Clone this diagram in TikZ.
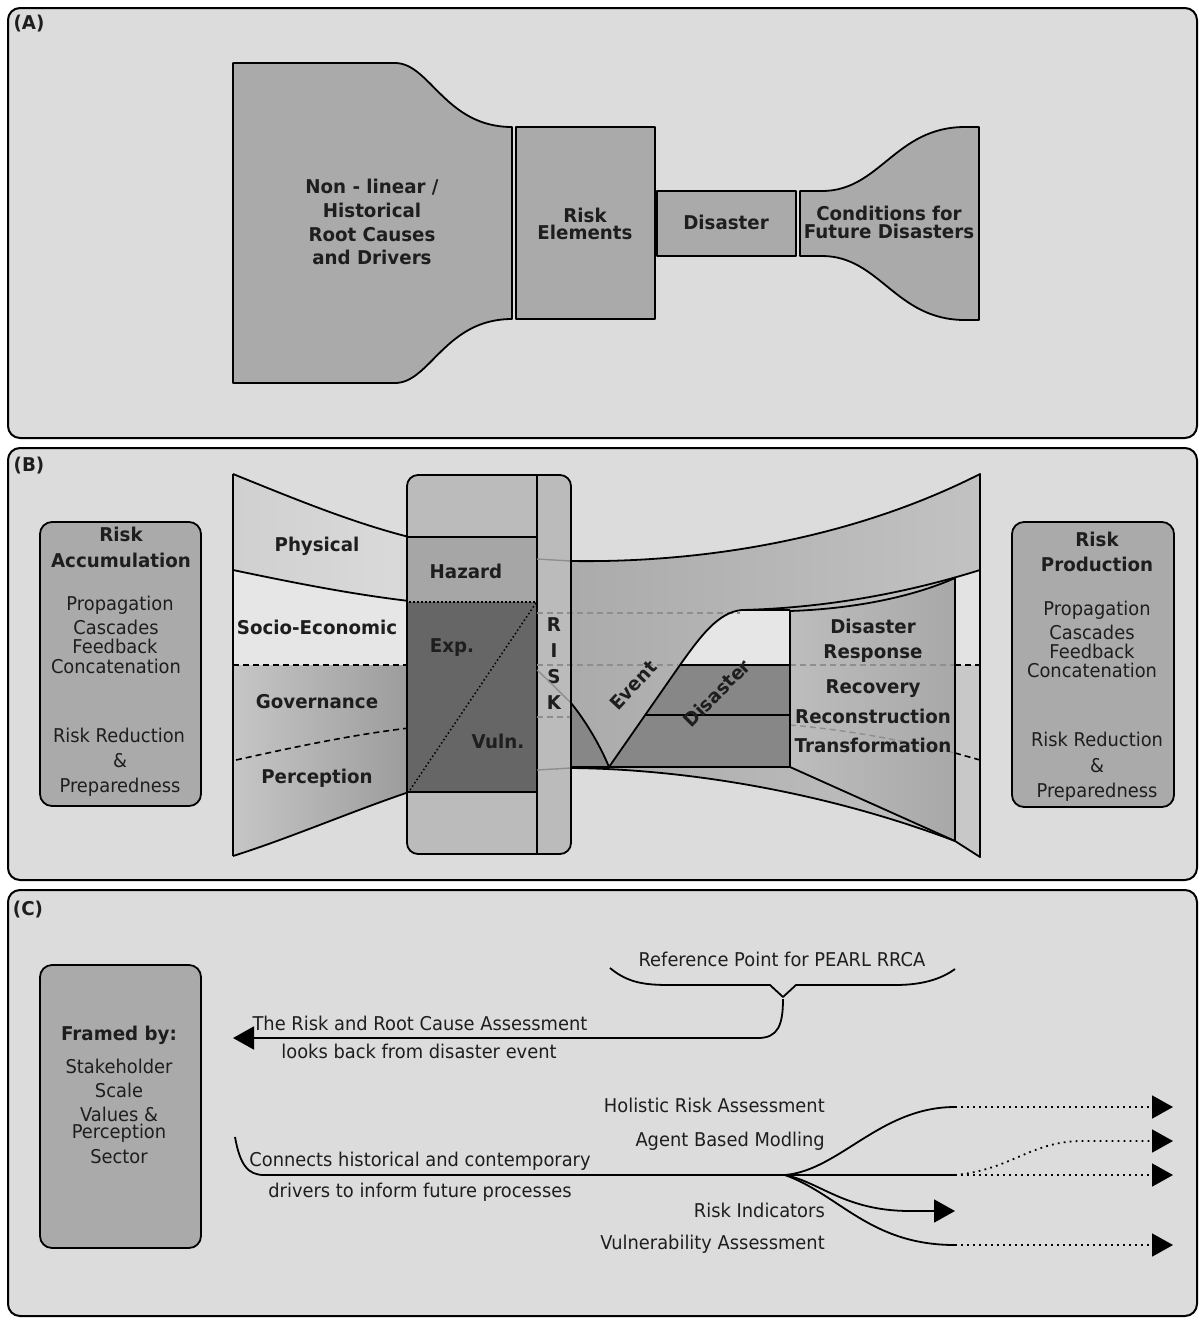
\documentclass[tikz,border=0pt]{standalone}
\usepackage{fontspec}
\setmainfont{DejaVu Sans}[FakeStretch=0.94, BoldFeatures={FakeStretch=0.96}]
\usetikzlibrary{arrows.meta}
\definecolor{bgc}{HTML}{DCDCDC}
\definecolor{midc}{HTML}{AAAAAA}
\definecolor{boxc}{HTML}{BBBBBB}
\definecolor{hazc}{HTML}{A6A6A6}
\definecolor{darkc}{HTML}{666666}
\definecolor{drkc}{HTML}{878787}
\definecolor{lightc}{HTML}{E6E6E6}
\definecolor{ghostc}{HTML}{8E8E8E}
\definecolor{txtc}{HTML}{1E1E1E}
\definecolor{phyL}{HTML}{D0D0D0}
\definecolor{phyR}{HTML}{DADADA}
\definecolor{govL}{HTML}{C6C6C6}
\definecolor{govR}{HTML}{9C9C9C}
\definecolor{rfL}{HTML}{ABABAB}
\definecolor{rfR}{HTML}{C2C2C2}
\definecolor{drL}{HTML}{BDBDBD}
\definecolor{drR}{HTML}{A8A8A8}
\definecolor{strU}{HTML}{E3E3E3}
\definecolor{strD}{HTML}{C8C8C8}
\tikzset{
  panel/.style={draw=black, line width=2pt, fill=bgc, rounded corners=12pt},
  shp/.style={draw=black, line width=1.8pt, fill=midc},
  ln/.style={draw=black, line width=1.8pt},
  bb/.style={font=\bfseries\fontsize{19}{21}\selectfont, inner sep=0pt, text=txtc, text height=1.1em, text depth=0em},
  rr/.style={font=\fontsize{19}{21}\selectfont, inner sep=0pt, text=txtc, text height=1.1em, text depth=0em},
  ghost/.style={draw=ghostc, line width=1.4pt},
  dsh/.style={draw=black, line width=1.6pt, dash pattern=on 6pt off 4pt},
  gdsh/.style={draw=ghostc, line width=1.4pt, dash pattern=on 6pt off 4pt},
  dots/.style={draw=black, line width=1.8pt, dash pattern=on 1.8pt off 4.2pt},
  fine/.style={draw=black, line width=1.5pt, dash pattern=on 1.5pt off 2.5pt},
  tip/.style={-{Triangle[length=21pt,width=23pt]}},
}
\begin{document}
\begin{tikzpicture}[x=1pt,y=-1pt,line join=round]
\useasboundingbox (0,0) rectangle (1199,1318);
% ================= Panel A =================
\draw[panel] (8,8) rectangle (1197,438);
\node[bb] (labA) at (29,24) {(A)};
\draw[shp] (233,63) -- (395,63) .. controls (430,63) and (445,127) .. (512,127) -- (512,319) .. controls (445,319) and (430,383) .. (395,383) -- (233,383) -- cycle;
\draw[shp] (516,127) rectangle (655,319);
\draw[shp] (657,191) rectangle (796,256);
\draw[shp] (800,191) -- (822,191) .. controls (880,191) and (895,127) .. (965,127) -- (979,127) -- (979,320) -- (965,320) .. controls (895,320) and (880,256) .. (822,256) -- (800,256) -- cycle;
\node[bb] (a1) at (372,188) {Non - linear /};
\node[bb] (a2) at (372,212) {Historical};
\node[bb] (a3) at (372,236) {Root Causes};
\node[bb] (a4) at (372,259) {and Drivers};
\node[bb] (a5) at (585,217) {Risk};
\node[bb] (a6) at (585,234) {Elements};
\node[bb] (a7) at (726,224) {Disaster};
\node[bb] (a8) at (889,215) {Conditions for};
\node[bb] (a9) at (889,233) {Future Disasters};
% ================= Panel B =================
\draw[panel] (8,448) rectangle (1197,880);
\node[bb] (labB) at (29,466) {(B)};
% Risk accumulation box
\draw[shp, rounded corners=12pt] (40,522) rectangle (201,806);
\node[bb] (ra1) at (121,536) {Risk};
\node[bb] (ra2) at (121,562) {Accumulation};
\node[rr] (ra3) at (120,605) {Propagation};
\node[rr] (ra4) at (116,629) {Cascades};
\node[rr] (ra5) at (115,648) {Feedback};
\node[rr] (ra6) at (116,668) {Concatenation};
\node[rr] (ra7) at (119,737) {Risk Reduction};
\node[rr] (ra8) at (120,762) {\&};
\node[rr] (ra9) at (120,787) {Preparedness};
% left funnel
\path[left color=phyL, right color=phyR] (233,474) .. controls (290,497) and (350,522) .. (409,537) -- (409,601) .. controls (350,594) and (290,582) .. (233,570) -- cycle;
\path[fill=lightc] (233,570) .. controls (290,582) and (350,594) .. (409,601) -- (409,665) -- (233,665) -- cycle;
\path[left color=govL, right color=govR] (233,665) -- (409,665) -- (409,792) .. controls (350,812) and (290,838) .. (233,856) -- cycle;
\draw[ln] (233,474) .. controls (290,497) and (350,522) .. (409,537);
\draw[ln] (233,570) .. controls (290,582) and (350,594) .. (409,601);
\draw[ln] (233,856) .. controls (290,838) and (350,812) .. (409,792);
\draw[ln] (233,474) -- (233,856);
\draw[dsh] (233,665) -- (409,665);
\draw[dsh] (236,760) .. controls (290,748) and (350,735) .. (409,728);
\node[bb] (phy) at (317,546) {Physical};
\node[bb] (soc) at (317,629) {Socio-Economic};
\node[bb] (gov) at (317,703) {Governance};
\node[bb] (per) at (317,778) {Perception};
% central box
\draw[shp, fill=boxc, rounded corners=11pt] (407,475) rectangle (571,854);
\fill[hazc] (408,537) rectangle (537,602);
\fill[darkc] (408,602) rectangle (537,792);
\draw[ln] (407,537) -- (537,537);
\draw[ln] (407,792) -- (537,792);
\draw[ln] (537,475) -- (537,854);
\draw[fine] (409,602) -- (537,602);
\draw[fine] (410,790) -- (536,603);
\node[bb] (haz) at (466,573) {Hazard};
\node[bb] (exp) at (452,647) {Exp.};
\node[bb] (vul) at (498,743) {Vuln.};
\node[bb] (rR) at (554,626) {R};
\node[bb] (rI) at (554,652) {I};
\node[bb] (rS) at (554,678) {S};
\node[bb] (rK) at (554,704) {K};
% right funnel base
\path[left color=rfL, right color=rfR] (571,561) .. controls (700,563) and (850,540) .. (980,474) -- (980,857) -- (955,840) .. controls (820,790) and (680,769) .. (571,768) -- cycle;
% white region
\path[fill=lightc] (680,665) .. controls (700,637) and (718,612) .. (742,610) -- (790,610) -- (790,665) -- cycle;
% dark disaster region
\path[fill=drkc] (571,703) .. controls (585,720) and (600,745) .. (609,767) -- (571,767) -- cycle;
\path[fill=drkc] (609,767) -- (680,665) -- (790,665) -- (790,767) -- cycle;
% disaster response panel
\path[left color=drL, right color=drR] (790,611) .. controls (850,609) and (910,598) .. (955,578) -- (955,841) -- (790,767) -- cycle;
% right strip
\path[fill=strU] (955,578) -- (980,570) -- (980,665) -- (955,665) -- cycle;
\path[fill=strD] (955,665) -- (980,665) -- (980,857) -- (955,841) -- cycle;
% ghost lines
\draw[ghost] (537,559) -- (571,561);
\draw[gdsh] (537,613) -- (740,613);
\draw[gdsh] (537,665) -- (678,665);
\draw[ghost] (537,670) .. controls (550,682) and (562,694) .. (571,703);
\draw[gdsh] (537,717) -- (571,717);
\draw[ghost] (537,770) -- (571,768);
\draw[gdsh] (790,665) -- (955,665);
\draw[gdsh] (790,725) .. controls (850,730) and (910,742) .. (955,753);
\draw[dsh] (955,665) -- (980,665);
\draw[dsh] (955,753) -- (980,760);
% outlines right funnel
\draw[ln] (571,561) .. controls (700,563) and (850,540) .. (980,474) -- (980,857) -- (955,841);
\draw[ln] (571,768) .. controls (680,769) and (820,790) .. (955,841);
\draw[ln] (742,610) .. controls (820,608) and (900,595) .. (980,570);
\draw[ln] (790,611) .. controls (850,609) and (910,598) .. (955,578) -- (955,841);
\draw[ln] (790,610) -- (790,767) -- (955,841);
\draw[ln] (571,703) .. controls (585,720) and (600,745) .. (609,767) -- (680,665) .. controls (700,637) and (718,612) .. (742,610) -- (790,610);
\draw[ln] (680,665) -- (790,665);
\draw[ln] (645,715) -- (790,715);
\draw[ln] (571,767) -- (790,767);
\draw[ln] (571,540) -- (571,790);
\node[bb, rotate=47] (evt) at (634,686) {Event};
\node[bb, rotate=45] (dis) at (718,694) {Disaster};
\node[bb] (dr1) at (873,628) {Disaster};
\node[bb] (dr2) at (873,653) {Response};
\node[bb] (dr3) at (873,688) {Recovery};
\node[bb] (dr4) at (873,718) {Reconstruction};
\node[bb] (dr5) at (873,747) {Transformation};
% Risk production box
\draw[shp, rounded corners=12pt] (1012,522) rectangle (1174,807);
\node[bb] (rp1) at (1097,541) {Risk};
\node[bb] (rp2) at (1097,566) {Production};
\node[rr] (rp3) at (1097,610) {Propagation};
\node[rr] (rp4) at (1092,634) {Cascades};
\node[rr] (rp5) at (1092,653) {Feedback};
\node[rr] (rp6) at (1092,672) {Concatenation};
\node[rr] (rp7) at (1097,741) {Risk Reduction};
\node[rr] (rp8) at (1097,767) {\&};
\node[rr] (rp9) at (1097,792) {Preparedness};
% ================= Panel C =================
\draw[panel] (8,890) rectangle (1197,1316);
\node[bb] (labC) at (28,910) {(C)};
\draw[shp, rounded corners=12pt] (40,965) rectangle (201,1248);
\node[bb] (fb1) at (119,1035) {Framed by:};
\node[rr] (fb2) at (119,1068) {Stakeholder};
\node[rr] (fb3) at (119,1092) {Scale};
\node[rr] (fb4) at (119,1116) {Values \&};
\node[rr] (fb5) at (119,1133) {Perception};
\node[rr] (fb6) at (119,1158) {Sector};
% brace & back arrow
\node[rr] (refp) at (782,961) {Reference Point for PEARL RRCA};
\coordinate (brL) at (610,968);
\coordinate (brR) at (955,969);
\coordinate (brTip) at (783,997);
\coordinate (back) at (233,1038);
\draw[ln] (brL) .. controls (628,983) and (645,985) .. (670,985) -- (770,985) -- (brTip) -- (796,985) -- (895,985) .. controls (920,985) and (940,980) .. (brR);
\draw[ln, tip] (783,999) .. controls (783,1025) and (778,1038) .. (758,1038) -- (back);
\node[rr] (t1) at (420,1025) {The Risk and Root Cause Assessment};
\node[rr] (t2) at (419,1053) {looks back from disaster event};
% forward arrows
\coordinate (st) at (235,1137);
\coordinate (bp) at (785,1175);
\coordinate (hA) at (955,1107);
\coordinate (hB) at (1173,1107);
\coordinate (sA) at (955,1175);
\coordinate (sB) at (1173,1175);
\coordinate (agB) at (1173,1141);
\coordinate (riB) at (955,1211);
\coordinate (vA) at (955,1245);
\coordinate (vB) at (1173,1245);
\draw[ln] (st) .. controls (240,1165) and (248,1175) .. (264,1175) -- (bp);
\draw[ln] (bp) .. controls (840,1170) and (880,1107) .. (hA);
\draw[dots, tip] (hA) -- (hB);
\draw[ln] (bp) -- (sA);
\draw[dots, tip] (sA) -- (sB);
\draw[dots, tip] (sA) .. controls (1010,1170) and (1030,1142) .. (1080,1141) -- (agB);
\draw[ln, tip] (bp) .. controls (820,1182) and (845,1211) .. (910,1211) -- (riB);
\draw[ln] (bp) .. controls (840,1195) and (870,1245) .. (vA);
\draw[dots, tip] (vA) -- (vB);
\node[rr] (t3) at (420,1161) {Connects historical and contemporary};
\node[rr] (t4) at (420,1192) {drivers to inform future processes};
\node[rr, anchor=east] (l1) at (825,1107) {Holistic Risk Assessment};
\node[rr, anchor=east] (l2) at (825,1141) {Agent Based Modling};
\node[rr, anchor=east] (l3) at (825,1212) {Risk Indicators};
\node[rr, anchor=east] (l4) at (825,1244) {Vulnerability Assessment};
\end{tikzpicture}
\end{document}
